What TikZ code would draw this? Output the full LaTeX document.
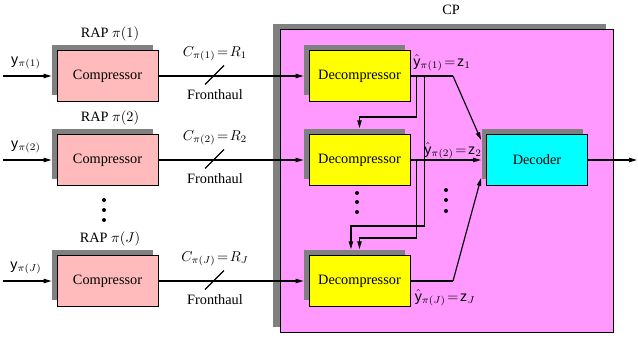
\documentclass[tikz,border=0pt]{standalone}
\usepackage{fontspec}
\setmainfont{Liberation Serif}
\setsansfont{Liberation Sans}
\usetikzlibrary{arrows.meta,shadows}
\definecolor{comppink}{RGB}{255,187,187}
\definecolor{cpmagenta}{RGB}{255,153,255}
\definecolor{decompyellow}{RGB}{255,255,0}
\definecolor{decodercyan}{RGB}{0,255,255}
\definecolor{shadowgray}{RGB}{128,128,128}
\tikzset{
  wire/.style={line width=0.8pt},
  arr/.style={wire, -{Triangle[length=5.5pt,width=3pt]}},
  blockshadow/.style={drop shadow={shadow xshift=-3.5pt, shadow yshift=4.2pt, fill=shadowgray, opacity=1}},
  block/.style={draw, line width=0.6pt, minimum width=70.7pt, minimum height=35.5pt, inner sep=2pt, blockshadow},
  compbox/.style={block, fill=comppink},
  decompbox/.style={block, fill=decompyellow},
  decoderbox/.style={block, fill=decodercyan},
  vdot/.style={circle, fill=black, inner sep=0pt, minimum size=2.8pt}
}
\begin{document}
\begin{tikzpicture}[x=0.7pt,y=-0.7pt]
  \useasboundingbox (0,0) rectangle (638,340);
  % central processor
  \node[draw, line width=0.6pt, fill=cpmagenta, minimum width=233.1pt, minimum height=212.1pt,
        drop shadow={shadow xshift=-4.9pt, shadow yshift=3.5pt, fill=shadowgray, opacity=1}] (cp) at (446.5,180.5) {};
  \node (cplabel) at (451,10) {CP};
  \node[decoderbox] (decoder) at (537,160) {Decoder};

  % one row per RAP
  \foreach \i/\y in {1/76,2/160,J/281} {
    \node[compbox] (comp\i) at (107.5,\y) {Compressor};
    \node (rap\i) at (110,\y-42) {RAP $\pi(\i)$};
    \node[decompbox] (decomp\i) at (359.5,\y) {Decompressor};
    \coordinate (in\i) at (3,\y);
    \node (ylab\i) at (26,\y-13) {$\mathsf{y}_{\pi(\i)}$};
    \draw[arr, shorten >=3.5pt] (in\i) -- (comp\i.west);
    \draw[arr, shorten >=3.5pt] (comp\i.east) -- (decomp\i.west);
    \coordinate (fh\i) at (214.5,\y-1);
    \draw[wire] ([shift={(-9.5,9.5)}]fh\i) -- ([shift={(9.5,-9.5)}]fh\i);
    \node (cap\i) at (215,\y-22) {$C_{\pi(\i)}\!=\!R_{\i}$};
    \node (fhlab\i) at (215,\y+19) {Fronthaul};
  }
  \foreach \y in {200,210,220} \node[vdot] (rdot\y) at (104,\y) {};
  \foreach \y in {193,202,212} \node[vdot] (ddot\y) at (357,\y) {};
  \foreach \y in {190,200,211} \node[vdot] (zdot\y) at (446,\y) {};

  % decompressor outputs to decoder
  \coordinate (b1) at (453,76);
  \coordinate (bJ) at (453,281);
  \draw[wire] (decomp1.east) -- (b1);
  \draw[arr] (b1) -- ([shift={(-3.5pt,14pt)}]decoder.west);
  \draw[arr, shorten >=3.5pt] (decomp2.east) -- (decoder.west);
  \draw[wire] (decompJ.east) -- (bJ);
  \draw[arr] (bJ) -- ([shift={(-3.5pt,-12.6pt)}]decoder.west);
  \node (z1) at (442,63) {$\hat{\mathsf{y}}_{\pi(1)}\!=\!\mathsf{z}_1$};
  \node (z2) at (453,151) {$\hat{\mathsf{y}}_{\pi(2)}\!=\!\mathsf{z}_2$};
  \node (zJ) at (445,298) {$\hat{\mathsf{y}}_{\pi(J)}\!=\!\mathsf{z}_J$};

  % side information
  \draw[arr] ([xshift=4.2pt]decomp1.east) -- ++(0,41) -| ([yshift=4.2pt]decomp2.north);
  \draw[arr] ([xshift=9.8pt]decomp1.east) -- ++(0,150) -| ([shift={(-6pt,4.2pt)}]decompJ.north);
  \draw[arr] ([xshift=4.2pt]decomp2.east) -- ++(0,78) -| ([yshift=4.2pt]decompJ.north);

  \coordinate (out) at (637,160);
  \draw[arr] (decoder.east) -- (out);
\end{tikzpicture}
\end{document}
